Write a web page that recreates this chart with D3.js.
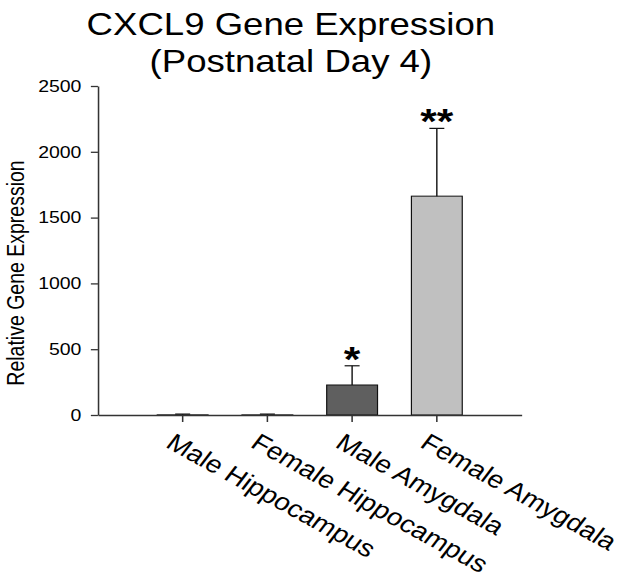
<!DOCTYPE html>
<html>
<head>
<meta charset="utf-8">
<script src="https://cdn.jsdelivr.net/npm/d3@7"></script>
<style>
  html, body { margin: 0; padding: 0; background: #fff; }
  svg { display: block; }
  text { font-family: "Liberation Sans", Arial, sans-serif; }
</style>
</head>
<body>
<div id="plot"></div>
<script>
// Data
const groups = ["Male Hippocampus", "Female Hippocampus", "Male Amygdala", "Female Amygdala"];
const means = [1, 1, 228, 1663];
const errors = [6, 6, 146, 515];
const stars = ["", "", "*", "**"];
const barColors = ["#5f5f5f", "#c0c0c0", "#5f5f5f", "#c0c0c0"];
const yTicks = [0, 500, 1000, 1500, 2000, 2500];
const titleLines = ["CXCL9 Gene Expression", "(Postnatal Day 4)"];

// The source picture is stretched sideways, so draw in a narrower
// viewBox and let the svg stretch it to the window
const stretch = 1.18;
const W = 624, H = 584;
const vbW = W / stretch;

const svg = d3.select("#plot")
  .append("svg")
  .attr("width", W)
  .attr("height", H)
  .attr("viewBox", `0 0 ${vbW} ${H}`)
  .attr("preserveAspectRatio", "none");

const plotLeft = 83, plotRight = 442, plotTop = 86, plotBottom = 415;

// Scales
const x = d3.scaleBand()
  .domain(groups)
  .range([plotLeft, plotRight])
  .paddingInner(0.4)
  .paddingOuter(0.7);

const y = d3.scaleLinear()
  .domain([0, 2500])
  .range([plotBottom, plotTop]);

// Title
svg.append("text")
  .attr("text-anchor", "middle")
  .attr("font-size", 31)
  .attr("fill", "#000")
  .selectAll("tspan")
  .data(titleLines)
  .enter()
  .append("tspan")
  .attr("x", 246.5)
  .attr("y", (d, i) => 35 + i * 37)
  .text(d => d);

// Y axis
const yAxis = svg.append("g")
  .attr("transform", `translate(${plotLeft},0)`)
  .call(d3.axisLeft(y).tickValues(yTicks).tickFormat(d3.format("d"))
    .tickSize(6).tickSizeOuter(0).tickPadding(8));
yAxis.select(".domain").attr("stroke", "#333").attr("stroke-width", 1.3);
yAxis.selectAll(".tick line").attr("stroke", "#333").attr("stroke-width", 1.3);
yAxis.selectAll(".tick text")
  .attr("font-size", 16.5)
  .attr("font-family", "Liberation Sans, Arial, sans-serif")
  .attr("fill", "#000");

// Y label
svg.append("text")
  .attr("text-anchor", "middle")
  .attr("transform", `translate(20, 273) rotate(-90)`)
  .attr("font-size", 19.5)
  .attr("fill", "#000")
  .text("Relative Gene Expression");

// Bars
svg.selectAll(".bar")
  .data(groups)
  .enter()
  .append("rect")
  .attr("class", "bar")
  .attr("x", d => x(d))
  .attr("y", (d, i) => y(means[i]))
  .attr("width", x.bandwidth())
  .attr("height", (d, i) => y(0) - y(means[i]))
  .attr("fill", (d, i) => barColors[i])
  .attr("stroke", "#111")
  .attr("stroke-width", 1);

// Error bars (upper only)
const capW = 12.7;
const err = svg.selectAll(".err")
  .data(groups)
  .enter()
  .append("g")
  .attr("class", "err")
  .attr("stroke", "#111")
  .attr("stroke-width", 1.2);

err.append("line")
  .attr("x1", d => x(d) + x.bandwidth() / 2)
  .attr("x2", d => x(d) + x.bandwidth() / 2)
  .attr("y1", (d, i) => y(means[i]))
  .attr("y2", (d, i) => y(means[i] + errors[i]));

err.append("line")
  .attr("x1", d => x(d) + x.bandwidth() / 2 - capW / 2)
  .attr("x2", d => x(d) + x.bandwidth() / 2 + capW / 2)
  .attr("y1", (d, i) => y(means[i] + errors[i]))
  .attr("y2", (d, i) => y(means[i] + errors[i]));

// Significance stars
svg.selectAll(".star")
  .data(groups)
  .enter()
  .append("text")
  .attr("class", "star")
  .attr("text-anchor", "middle")
  .attr("x", d => x(d) + x.bandwidth() / 2)
  .attr("y", (d, i) => y(means[i] + errors[i]) + 5)
  .attr("font-size", 36)
  .attr("font-weight", "bold")
  .attr("fill", "#000")
  .text((d, i) => stars[i]);

// X axis
const xAxis = svg.append("g")
  .attr("transform", `translate(0,${plotBottom})`)
  .call(d3.axisBottom(x).tickSize(7).tickSizeOuter(0));
xAxis.select(".domain").attr("stroke", "#333").attr("stroke-width", 1.3);
xAxis.selectAll(".tick line").attr("stroke", "#333").attr("stroke-width", 1.3);
xAxis.selectAll(".tick text")
  .attr("font-size", 24)
  .attr("font-family", "Liberation Sans, Arial, sans-serif")
  .attr("fill", "#000")
  .attr("text-anchor", "start")
  .attr("x", 0)
  .attr("y", 0)
  .attr("dy", "0.72em")
  .attr("transform", "translate(-6,17) rotate(33)");
</script>
</body>
</html>
